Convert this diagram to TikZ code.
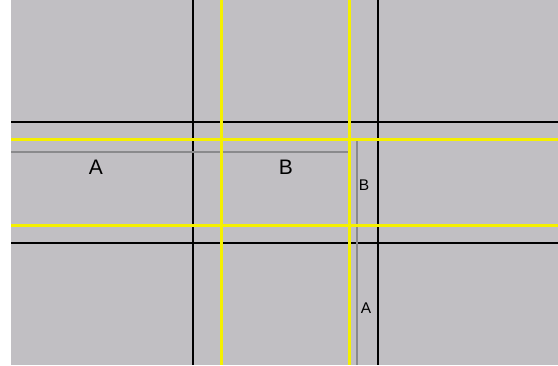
\documentclass[tikz,border=0pt]{standalone}
\usepackage{fontspec}
\setmainfont{Liberation Sans}
\definecolor{bg}{RGB}{193,191,195}
\definecolor{gline}{RGB}{138,138,140}
\definecolor{yline}{RGB}{245,240,0}
\begin{document}
\begin{tikzpicture}[x=1pt,y=-1pt,
  blk/.style={draw=black,line width=2.2pt},
  yel/.style={draw=yline,line width=3pt},
  gry/.style={draw=gline,line width=1.6pt},
  big/.style={font=\fontsize{21}{24}\selectfont,inner sep=0pt},
  small/.style={font=\fontsize{15.5}{18}\selectfont,inner sep=0pt}]
\useasboundingbox (0,0) rectangle (558,365);
\fill[white] (0,0) rectangle (558,365);
\fill[bg] (11,0) rectangle (558,365);
% black grid
\draw[blk] (193,0) -- (193,365);
\draw[blk] (378,0) -- (378,365);
\draw[blk] (11,122) -- (558,122);
\draw[blk] (11,243) -- (558,243);
% gray guide lines
\draw[gry] (11,152) -- (349,152);
\draw[gry] (357,141) -- (357,365);
% yellow lines
\draw[yel] (221,0) -- (221,365);
\draw[yel] (349,0) -- (349,365);
\draw[yel] (11,139) -- (558,139);
\draw[yel] (11,225) -- (558,225);
% labels
\node[big] (la) at (96,167) {A};
\node[big] (lb) at (286,167) {B};
\node[small] (sb) at (364,185) {B};
\node[small] (sa) at (366,308) {A};
\end{tikzpicture}
\end{document}
